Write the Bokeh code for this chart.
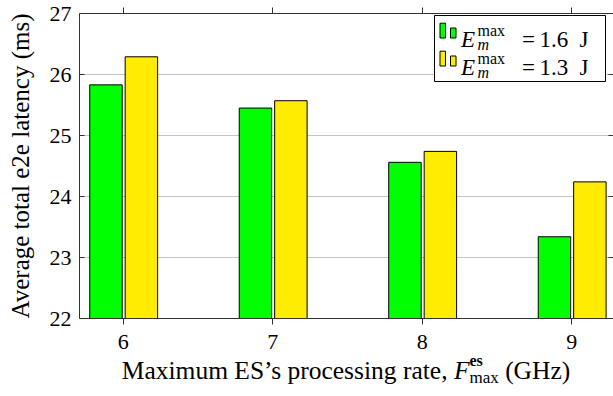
from bokeh.plotting import figure
from bokeh.models import Range1d, LinearAxis, FixedTicker, Label, BoxAnnotation, ColumnDataSource, Div
from bokeh.layouts import column
from bokeh.transform import dodge
from bokeh.embed import file_html
from bokeh.resources import INLINE

# ---- data ----
rates = [6, 7, 8, 9]                       # F_max^es (GHz)
lat_e16 = [25.83, 25.45, 24.56, 23.34]     # E_m^max = 1.6 J
lat_e13 = [26.29, 25.57, 24.74, 24.24]     # E_m^max = 1.3 J
series_values = ["1.6", "1.3"]
series_unit = "J"
y_ticks = [22, 23, 24, 25, 26, 27]

FONT = "Liberation Serif"
GREEN = "#00ff00"
YELLOW = "#ffec00"
AX = "#333333"

W = 613
FIG_H = 358
DIV_H = 396 - FIG_H
ML, MR, MT, MB = 79, 0, 13, 40
FRAME_BOTTOM = FIG_H - MB

p = figure(width=W, height=FIG_H, output_backend="svg", toolbar_location=None,
           x_range=Range1d(5.708, 9.28), y_range=Range1d(y_ticks[0], y_ticks[-1]),
           min_border_left=ML, min_border_right=MR, min_border_top=MT, min_border_bottom=MB,
           margin=0)
p.outline_line_color = None
p.background_fill_color = "white"
p.border_fill_color = "white"

src = ColumnDataSource(dict(x=rates, a=lat_e16, b=lat_e13))
p.vbar(x=dodge("x", -0.115), top="a", bottom=y_ticks[0], width=0.217, source=src,
       fill_color=GREEN, line_color="black", line_width=1)
p.vbar(x=dodge("x", 0.122), top="b", bottom=y_ticks[0], width=0.217, source=src,
       fill_color=YELLOW, line_color="black", line_width=1)

# grid
p.xgrid.visible = False
p.ygrid.ticker = FixedTicker(ticks=y_ticks)
p.ygrid.grid_line_color = "#c4c4c4"
p.ygrid.grid_line_width = 1

# axes
xa = p.xaxis[0]
xa.ticker = FixedTicker(ticks=rates)
xa.major_tick_out = 6
xa.major_tick_in = 0
xa.minor_tick_out = 0
xa.minor_tick_in = 0
xa.axis_line_color = AX
xa.major_tick_line_color = AX
xa.major_label_text_font = FONT
xa.major_label_text_font_size = "22px"
xa.major_label_text_color = "black"
xa.major_label_standoff = 10

ya = p.yaxis[0]
ya.ticker = FixedTicker(ticks=y_ticks)
ya.major_tick_out = 0
ya.major_tick_in = 5
ya.minor_tick_out = 0
ya.minor_tick_in = 0
ya.axis_line_color = AX
ya.major_tick_line_color = AX
ya.major_label_text_font = FONT
ya.major_label_text_font_size = "22px"
ya.major_label_text_color = "black"
ya.major_label_standoff = 8
ya.axis_label = "Average total e2e latency (ms)"
ya.axis_label_text_font = FONT
ya.axis_label_text_font_style = "normal"
ya.axis_label_text_font_size = "25px"
ya.axis_label_text_color = "black"
ya.axis_label_standoff = 13

top_ax = LinearAxis(ticker=FixedTicker(ticks=rates), major_tick_out=6, major_tick_in=0,
                    minor_tick_out=0, minor_tick_in=0, major_label_text_font_size="1px",
                    major_label_text_color=None, major_label_standoff=0,
                    axis_line_color=AX, major_tick_line_color=AX)
p.add_layout(top_ax, "above")

right_ax = LinearAxis(ticker=FixedTicker(ticks=y_ticks), major_tick_out=0, major_tick_in=5,
                      minor_tick_out=0, minor_tick_in=0, major_label_text_font_size="1px",
                      major_label_text_color=None, major_label_standoff=0,
                      axis_line_color=None, major_tick_line_color=AX)
p.add_layout(right_ax, "right")

# ---- legend (positions in canvas pixels, converted to frame-relative screen units) ----
def lab(text, cx, cy, size, style="normal", align="left"):
    p.add_layout(Label(x=cx - ML, y=FRAME_BOTTOM - cy, x_units="screen", y_units="screen",
                       text=text, text_font=FONT, text_font_size=f"{size}px",
                       text_font_style=style, text_align=align, text_baseline="alphabetic",
                       text_color="black"))

def box(l, r, t, b, fill, lw=1):
    p.add_layout(BoxAnnotation(left=l - ML, right=r - ML, top=FRAME_BOTTOM - t, bottom=FRAME_BOTTOM - b,
                               left_units="screen", right_units="screen",
                               top_units="screen", bottom_units="screen",
                               fill_color=fill, fill_alpha=1.0, line_color="black",
                               line_alpha=1.0, line_width=lw))

box(434, 605, 15, 81, "white")
for i, (col, val) in enumerate(zip([GREEN, YELLOW], series_values)):
    dy = 28 * i
    box(439.5, 445, 22.7 + dy, 37.5 + dy, col)
    box(450, 455.5, 27.5 + dy, 37.5 + dy, col)
    lab("E", 460.5, 39.3 + dy, 23, style="italic")
    lab("max", 477, 30 + dy, 16)
    lab("m", 477, 43.5 + dy, 16, style="italic")
    lab("=", 521.5, 39.3 + dy, 23)
    lab(val, 539, 39.3 + dy, 23)
    lab(series_unit, 579, 39.3 + dy, 23)

# ---- x axis title (HTML so that F^{es}_{max} can be stacked) ----
xlabel_html = (
    f'<div style="width:{W - ML}px;font-family:\'Liberation Serif\';font-size:25.5px;line-height:30px;'
    'color:black;text-align:center;white-space:nowrap;position:relative;top:-7px;">'
    'Maximum ES\u2019s processing rate, <i>F</i>'
    '<span style="display:inline-block;vertical-align:-4px;line-height:14px;text-align:left;">'
    '<b style="font-size:16px;">es</b><br><span style="font-size:17px;">max</span></span>'
    ' (GHz)</div>'
)
xlabel = Div(text=xlabel_html, width=W - ML, height=DIV_H, margin=(0, 0, 0, ML))

layout = column(p, xlabel, spacing=0, margin=0)
open("out.html", "w").write(file_html(layout, INLINE))
